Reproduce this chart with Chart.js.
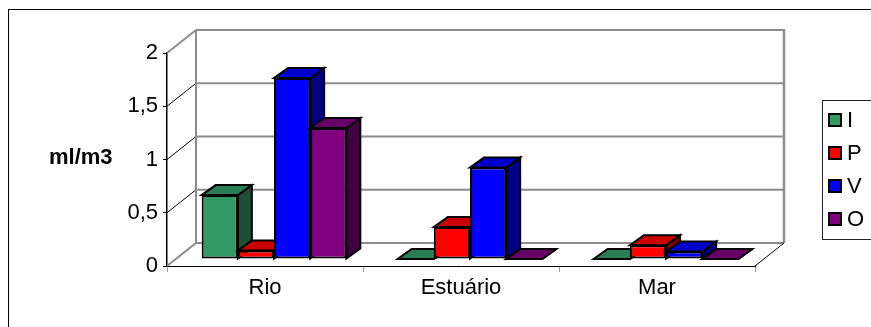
<!DOCTYPE html>
<html>
<head>
<meta charset="utf-8">
<script src="https://cdn.jsdelivr.net/npm/chart.js@4.4.0/dist/chart.umd.min.js"></script>
<style>
    html, body { margin: 0; padding: 0; background: #fff; overflow: hidden; }
    body { width: 871px; height: 327px; position: relative; font-family: "Liberation Sans", Arial, sans-serif; }
    #frame { position: absolute; left: 8px; top: 9px; width: 1000px; height: 1000px; border: 1.5px solid #000; }
    #chart { position: absolute; left: 0; top: 0; }
    #ytitle { position: absolute; left: 49px; top: 145px; font-weight: bold; font-size: 22px; line-height: 24px; color: #000; }
    #legend { position: absolute; left: 822px; top: 100px; width: 100px; border: 1px solid #222; padding: 2px 0 4px 5px; }
    .item { height: 33px; display: flex; align-items: center; font-size: 22px; color: #000; }
    .swatch { width: 14px; height: 14px; box-sizing: border-box; border: 2px solid #000; margin-right: 5px; }
</style>
</head>
<body>
<div id="frame"></div>
<canvas id="chart" width="871" height="327"></canvas>
<div id="ytitle">ml/m3</div>
<div id="legend"></div>
<script>
const categories = ["Rio", "Estuário", "Mar"];
const seriesNames = ["I", "P", "V", "O"];
const valuesI = [0.6, 0, 0];
const valuesP = [0.08, 0.3, 0.13];
const valuesV = [1.7, 0.86, 0.07];
const valuesO = [1.23, 0, 0];
const yMin = 0, yMax = 2, yStep = 0.5;

// front / top / side shades, like the old 3D column look
const shades = [
    { front: "#339966", top: "#2a7d54", side: "#1e4e37" },
    { front: "#ff0000", top: "#cc0000", side: "#800000" },
    { front: "#0000ff", top: "#0000cc", side: "#000080" },
    { front: "#800080", top: "#660066", side: "#400040" }
];

const WALL = { dx: 29, dy: -23 };   // depth of the whole box
const SHIFT = { dx: 9, dy: -7 };    // where the bar fronts sit
const DEPTH = { dx: 14, dy: -10 };  // depth of a bar

const line = (ctx, x1, y1, x2, y2, color, w) => {
    ctx.beginPath();
    ctx.strokeStyle = color;
    ctx.lineWidth = w;
    ctx.moveTo(x1, y1);
    ctx.lineTo(x2, y2);
    ctx.stroke();
};

const poly = (ctx, pts, fill) => {
    ctx.beginPath();
    ctx.moveTo(pts[0][0], pts[0][1]);
    pts.slice(1).forEach(p => ctx.lineTo(p[0], p[1]));
    ctx.closePath();
    ctx.fillStyle = fill;
    ctx.fill();
    ctx.strokeStyle = "#000";
    ctx.lineWidth = 2;
    ctx.lineJoin = "miter";
    ctx.stroke();
};

const box3d = {
    id: "box3d",
    beforeDatasetsDraw(chart) {
        const { ctx, chartArea: a, scales: { y } } = chart;
        ctx.save();
        const bx = a.left + WALL.dx, rx = a.right + WALL.dx;
        const yb = y.getPixelForValue(yMin) + WALL.dy, yt = y.getPixelForValue(yMax) + WALL.dy;
        for (let v = yMin; v <= yMax + 1e-9; v += yStep) {
            const py = y.getPixelForValue(v);
            const edge = v === yMin || Math.abs(v - yMax) < 1e-9;
            line(ctx, a.left, py, bx, py + WALL.dy, edge ? "#8c8c8c" : "#000", edge ? 2 : 1);
            line(ctx, bx, py + WALL.dy, rx, py + WALL.dy, "#8c8c8c", 2);
        }
        line(ctx, bx, yb, bx, yt, "#8c8c8c", 2);
        line(ctx, rx, yb, rx, yt - 1, "#8c8c8c", 2.5);
        line(ctx, a.right, a.bottom, rx, a.bottom + WALL.dy, "#000", 1);
        ctx.restore();
    },
    // Chart.js paints datasets last-to-first; skip that and paint them left to right below
    beforeDatasetDraw() {
        return false;
    },
    afterDatasetsDraw(chart) {
        const ctx = chart.ctx;
        ctx.save();
        ctx.translate(SHIFT.dx, SHIFT.dy);
        chart.data.datasets.forEach((ds, i) => {
            const sh = shades[i];
            chart.getDatasetMeta(i).data.forEach(bar => {
                const p = bar.getProps(["x", "y", "base", "width"], true);
                const l = p.x - p.width / 2, r = p.x + p.width / 2;
                const t = Math.min(p.y, p.base), b = Math.max(p.y, p.base);
                poly(ctx, [[r, t], [r + DEPTH.dx, t + DEPTH.dy], [r + DEPTH.dx, b + DEPTH.dy], [r, b]], sh.side);
                poly(ctx, [[l, t], [r, t], [r + DEPTH.dx, t + DEPTH.dy], [l + DEPTH.dx, t + DEPTH.dy]], sh.top);
                bar.draw(ctx, chart.chartArea);
            });
        });
        ctx.restore();
    }
};

const makeSet = (label, data, i) => ({
    label,
    data,
    backgroundColor: shades[i].front,
    borderColor: "#000",
    borderWidth: 2,
    borderSkipped: false,
    categoryPercentage: 0.738,
    barPercentage: 1,
    clip: false
});

new Chart(document.getElementById("chart").getContext("2d"), {
    type: "bar",
    data: {
        labels: categories,
        datasets: [
            makeSet(seriesNames[0], valuesI, 0),
            makeSet(seriesNames[1], valuesP, 1),
            makeSet(seriesNames[2], valuesV, 2),
            makeSet(seriesNames[3], valuesO, 3)
        ]
    },
    options: {
        responsive: false,
        animation: false,
        events: [],
        layout: { padding: { top: 53, right: 116, left: 0, bottom: 0 } },
        plugins: { legend: { display: false }, tooltip: { enabled: false } },
        scales: {
            x: {
                afterFit: s => { s.height = 61; },
                grid: { display: true, drawOnChartArea: false, drawTicks: true, tickLength: 6, color: "#999" },
                border: { display: true, color: "#000", width: 1 },
                ticks: { color: "#000", padding: 3, font: { family: "Liberation Sans", size: 22 } }
            },
            y: {
                min: yMin,
                max: yMax,
                afterFit: s => { s.width = 167; },
                grid: { display: true, drawOnChartArea: false, drawTicks: true, tickLength: 4, color: "#000" },
                border: { display: true, color: "#000", width: 1.5 },
                ticks: {
                    stepSize: yStep,
                    padding: 5,
                    color: "#000",
                    font: { family: "Liberation Sans", size: 22 },
                    callback: v => String(v).replace(".", ",")
                }
            }
        }
    },
    plugins: [box3d]
});

const legend = document.getElementById("legend");
seriesNames.forEach((name, i) => {
    const item = document.createElement("div");
    item.className = "item";
    item.innerHTML = `<span class="swatch" style="background:${shades[i].front}"></span><span>${name}</span>`;
    legend.appendChild(item);
});
</script>
</body>
</html>
